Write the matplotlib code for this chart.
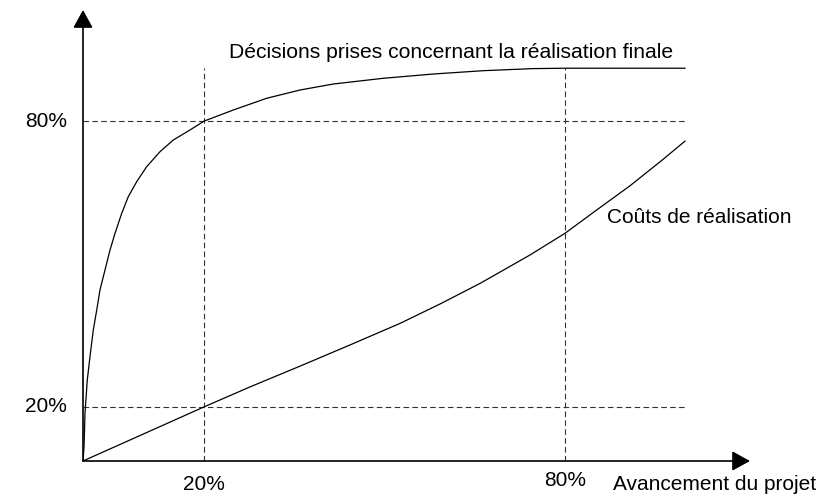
import numpy as np
import matplotlib.pyplot as plt

plt.rcParams['font.family'] = ['Liberation Sans', 'DejaVu Sans']

# courbe des décisions prises (avancement %, niveau)
dec_x = [0, 0.17, 0.33, 0.71, 1.16, 1.71, 2.28, 2.82, 3.65, 4.49, 5.32, 6.43, 7.52, 8.92,
         10.58, 12.79, 15.0, 17.77, 20.1, 24.97, 30.51, 36.05, 41.58, 49.88, 58.19,
         66.5, 74.8, 80.35, 100]
dec_y = [0, 3.65, 12.17, 20.66, 26.61, 33.42, 38.52, 43.62, 48.72, 53.83, 58.09, 63.19,
         67.42, 71.25, 75.08, 78.9, 81.89, 84.44, 86.7, 89.54, 92.53, 94.64, 96.17, 97.63,
         98.72, 99.57, 100.1, 100.2, 100.2]

# courbe des coûts de réalisation
cout_x = [0, 20.1, 27.74, 36.05, 44.35, 52.66, 59.5, 65.95, 74.25, 80.07, 85.33, 90.86, 96.4, 100]
cout_y = [0, 13.8, 18.9, 24.2, 29.6, 35.1, 40.2, 45.3, 52.55, 58.09, 64.03, 70.2, 77.0, 81.6]

# repères 20% / 80%
rep_x = [20.1, 80.1]
rep_y = [13.8, 86.7]
rep_labels = ['20%', '80%']

fig = plt.figure(figsize=(8.19, 5.03), dpi=100)
ax = fig.add_axes([83 / 819, 42 / 503, 667 / 819, 451 / 503])
ax.set_xlim(0, 110.8)
ax.set_ylim(0, 115.05)
ax.axis('off')

dash = (0, (5, 3))
for xv in rep_x:
    ax.plot([xv, xv], [0, 100.3], color='#333333', lw=0.8, linestyle=dash)
for yv in rep_y:
    ax.plot([0, 100], [yv, yv], color='#333333', lw=0.8, linestyle=dash)

ax.plot(dec_x, dec_y, color='black', lw=0.9)
ax.plot(cout_x, cout_y, color='black', lw=0.9)

# axes avec flèches
arr = dict(arrowstyle='-|>,head_length=1.0,head_width=0.55', color='black', lw=1.2,
           mutation_scale=11, shrinkA=0, shrinkB=0)
ax.annotate('', xy=(110.8, 0), xytext=(0, 0), arrowprops=arr, annotation_clip=False)
ax.annotate('', xy=(0, 115.05), xytext=(0, 0), arrowprops=arr, annotation_clip=False)

fs = 15
ax.text(24.25, 104.3, 'Décisions prises concernant la réalisation finale', fontsize=15.2, ha='left', va='center')
ax.text(87.0, 62.0, 'Coûts de réalisation', fontsize=fs, ha='left', va='center')

for yv, lab in zip(rep_y, rep_labels):
    ax.text(-2.66, yv, lab, fontsize=fs, ha='right', va='center')
ax.text(rep_x[0], -5.9, rep_labels[0], fontsize=fs, ha='center', va='center')
ax.text(rep_x[1], -4.85, rep_labels[1], fontsize=fs, ha='center', va='center')
ax.text(88.0, -5.9, 'Avancement du projet', fontsize=fs, ha='left', va='center')

fig.savefig('out.png', dpi=100)
